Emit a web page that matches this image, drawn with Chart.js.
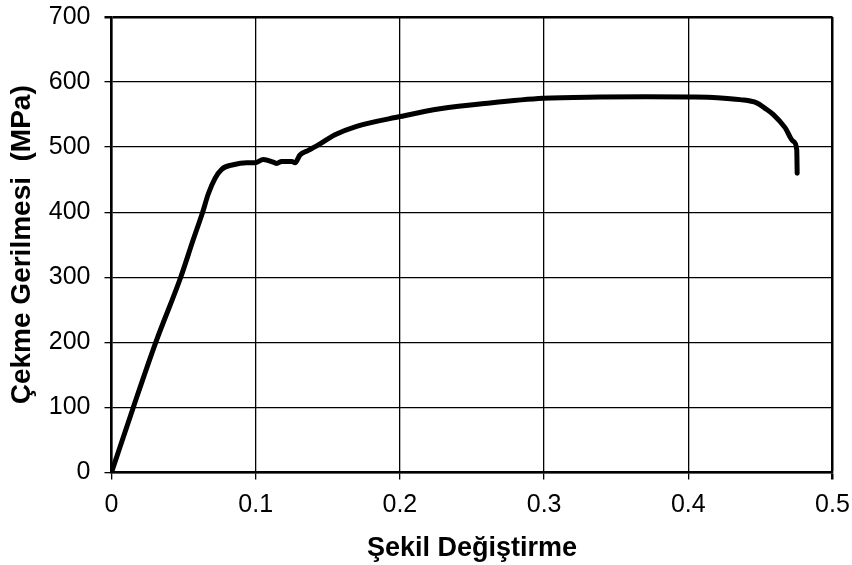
<!DOCTYPE html>
<html>
<head>
<meta charset="utf-8">
<script src="https://cdn.jsdelivr.net/npm/chart.js@4"></script>
<style>
  body { margin: 0; background: #fff; }
</style>
</head>
<body>
<canvas id="myChart" width="852" height="565"></canvas>
<script>
// strain / stress readings for the tensile test
const strain = [0, 0.0151, 0.0307, 0.048, 0.0567, 0.0632, 0.0671, 0.0718, 0.0764, 0.0845,
  0.0938, 0.0995, 0.1053, 0.1122, 0.1146, 0.118, 0.125, 0.1273, 0.1307, 0.1365,
  0.1446, 0.155, 0.170, 0.2001, 0.2278, 0.2625, 0.2994, 0.3388, 0.37, 0.40,
  0.42, 0.4359, 0.4474, 0.453, 0.459, 0.4671, 0.4728, 0.4752, 0.4755]
const stress = [0, 100, 200, 300, 358, 400, 428, 452, 466, 473,
  476, 476, 481, 477, 475, 478, 478, 476, 488, 495,
  505, 519, 532, 547, 559, 568, 575, 577, 577.5, 577,
  576, 573, 568, 560, 550, 530, 509, 496, 460]

const xTicks = [0, 0.1, 0.2, 0.3, 0.4, 0.5]
const yTicks = [0, 100, 200, 300, 400, 500, 600, 700]

const punkte = strain.map((x, i) => ({ x: x, y: stress[i] }))

const schrift = 'Liberation Sans, Arial, sans-serif'

const canvas = document.getElementById('myChart');
const ctx = canvas.getContext('2d');

const chart = new Chart(ctx, {
  type: 'scatter',
  data: {
    datasets: [{
      data: punkte,
      showLine: true,
      borderColor: '#000',
      borderWidth: 5,
      pointRadius: 0,
      cubicInterpolationMode: 'monotone',
      borderCapStyle: 'round',
      borderJoinStyle: 'round'
    }]
  },
  options: {
    responsive: false,
    animation: false,
    layout: { padding: { top: 17, right: 19.5, left: 0, bottom: 0 } },
    plugins: { legend: { display: false }, tooltip: { enabled: false } },
    scales: {
      x: {
        type: 'linear',
        min: xTicks[0],
        max: xTicks[xTicks.length - 1],
        // fixed axis height, labels may hang over the edges
        afterFit: s => { s.height = 92.5; s.paddingLeft = 0; s.paddingRight = 0 },
        afterBuildTicks: s => { s.ticks = xTicks.map(v => ({ value: v })) },
        ticks: {
          color: '#000',
          font: { family: schrift, size: 25 },
          padding: 11,
          maxRotation: 0,
          callback: v => String(v)
        },
        grid: {
          color: '#000',
          tickColor: '#000',
          tickLength: 7,
          lineWidth: c => (c.tick && c.tick.value === 0.5) ? 2.5 : 1.3
        },
        border: { color: '#000', width: 2.5 },
        title: {
          display: true,
          text: 'Şekil Değiştirme',
          color: '#000',
          font: { family: schrift, size: 27, weight: 'bold' },
          padding: { top: 3, bottom: 0 }
        }
      },
      y: {
        type: 'linear',
        min: yTicks[0],
        max: yTicks[yTicks.length - 1],
        afterFit: s => { s.width = 111.5; s.paddingTop = 0; s.paddingBottom = 0 },
        afterBuildTicks: s => { s.ticks = yTicks.map(v => ({ value: v })) },
        ticks: {
          color: '#000',
          font: { family: schrift, size: 25 },
          padding: 14
        },
        grid: {
          color: '#000',
          tickColor: '#000',
          tickLength: 7,
          lineWidth: c => (c.tick && c.tick.value === 700) ? 2.5 : 1.3
        },
        border: { color: '#000', width: 2.5 },
        title: {
          display: true,
          text: 'Çekme Gerilmesi  (MPa)',
          color: '#000',
          font: { family: schrift, size: 28, weight: 'bold' },
          padding: { top: 5, bottom: 0 }
        }
      }
    }
  }
})
</script>
</body>
</html>
